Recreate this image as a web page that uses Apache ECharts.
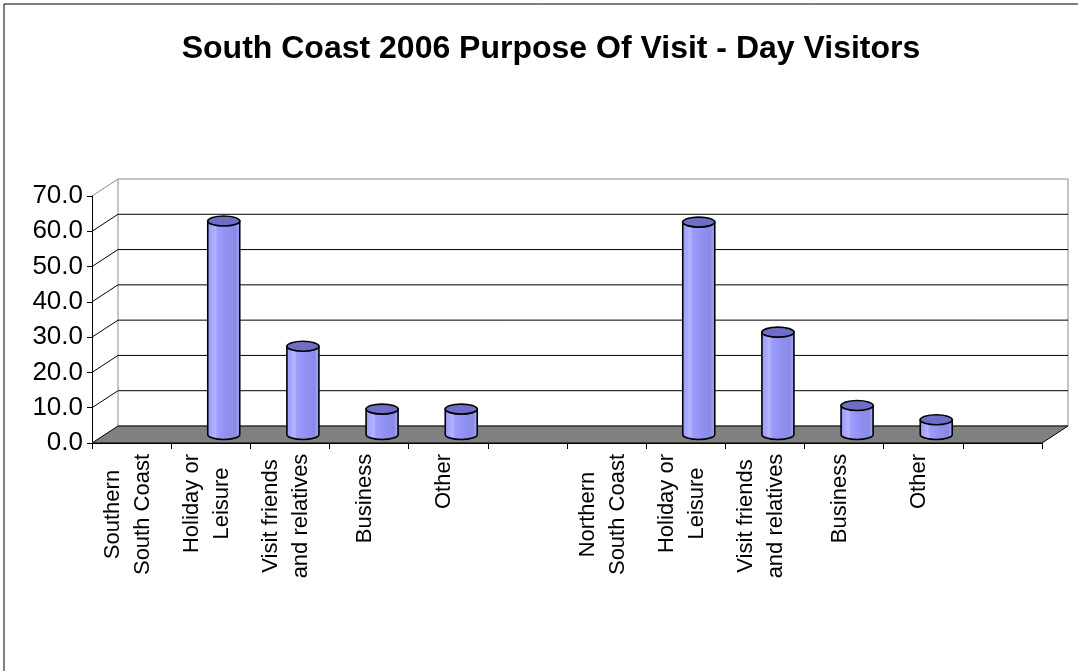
<!DOCTYPE html>
<html><head><meta charset="utf-8">
<script src="https://cdn.jsdelivr.net/npm/echarts@6/dist/echarts.min.js"></script>
<style>html,body{margin:0;padding:0;background:#fff}#c{width:1078px;height:671px}</style>
</head><body><div id="c"></div>
<script>
// ---- data ----
const titleText = 'South Coast 2006 Purpose Of Visit - Day Visitors';
const categories = ['Southern\nSouth Coast', 'Holiday or\nLeisure', 'Visit friends\nand relatives', 'Business', 'Other', '',
                    'Northern\nSouth Coast', 'Holiday or\nLeisure', 'Visit friends\nand relatives', 'Business', 'Other', ''];
const values = [null, 60.5, 25.0, 7.2, 7.2, null, null, 60.2, 29.0, 8.2, 4.2, null];
const yMin = 0, yMax = 70, yStep = 10;

// ---- style constants ----
const FONT = '"Liberation Sans", Arial, sans-serif';
const DX = 26, DY = 17;          // 3D depth offset
const CAT_FONT = 22;

// measure label lines so that lines can be centered inside a right-aligned block
const ctx = document.createElement('canvas').getContext('2d');
ctx.font = CAT_FONT + 'px ' + FONT;
const rich = {};
categories.forEach((c, i) => {
  const w = Math.max(...c.split('\n').map(s => ctx.measureText(s).width), 1);
  rich['c' + i] = { width: Math.ceil(w) + 1, align: 'center', fontSize: CAT_FONT, lineHeight: 30, fontFamily: FONT, color: '#000' };
});

const chart = echarts.init(document.getElementById('c'));

function wallItem(params, api) {
  const cs = params.coordSys;
  const x0 = cs.x, x1 = cs.x + cs.width, yb = cs.y + cs.height, yt = cs.y;
  const ch = [];
  ch.push({ type: 'polygon', shape: { points: [[x0 + DX, yt - DY], [x1 + DX, yt - DY], [x1 + DX, yb - DY], [x0 + DX, yb - DY]] },
            style: { fill: '#fff', stroke: '#8c8c8c', lineWidth: 1 } });
  ch.push({ type: 'line', shape: { x1: x0, y1: yt, x2: x0 + DX, y2: yt - DY }, style: { stroke: '#8c8c8c', lineWidth: 1 } });
  for (let v = yMin + yStep; v < yMax; v += yStep) {
    const y = api.coord([0, v])[1];
    ch.push({ type: 'polyline', shape: { points: [[x0, y], [x0 + DX, y - DY], [x1 + DX, y - DY]] },
              style: { fill: null, stroke: '#000', lineWidth: 1 } });
  }
  ch.push({ type: 'polygon', shape: { points: [[x0, yb], [x1, yb], [x1 + DX, yb - DY], [x0 + DX, yb - DY]] },
            style: { fill: '#808080', stroke: '#000', lineWidth: 1 } });
  return { type: 'group', children: ch };
}

function cylItem(params, api) {
  const i = api.value(0), v = api.value(1);
  const b = api.coord([i, 0]), t = api.coord([i, v]);
  const cx = b[0] + DX / 2, by = b[1] - DY / 2, ty = t[1] - DY / 2;
  const rx = 16, ry = 5;
  const body = `M${cx - rx},${ty} L${cx - rx},${by} A${rx},${ry} 0 0 0 ${cx + rx},${by} L${cx + rx},${ty} Z`;
  const top = `M${cx - rx},${ty} A${rx},${ry} 0 0 0 ${cx + rx},${ty} A${rx},${ry} 0 0 0 ${cx - rx},${ty} Z`;
  return {
    type: 'group', children: [
      { type: 'path', shape: { pathData: body }, style: {
          fill: new echarts.graphic.LinearGradient(0, 0, 1, 0, [
            { offset: 0, color: '#9a9af8' }, { offset: 0.12, color: '#a4a4ff' }, { offset: 0.25, color: '#b4b4ff' },
            { offset: 0.32, color: '#9c9cfc' }, { offset: 0.6, color: '#9090f0' }, { offset: 0.85, color: '#8a8ae6' },
            { offset: 0.93, color: '#a0a0f8' }, { offset: 1, color: '#8888e0' }]),
          stroke: '#000', lineWidth: 1.6 } },
      { type: 'path', shape: { pathData: top }, style: { fill: '#6e6ec6', stroke: '#000', lineWidth: 1.6 } }
    ]
  };
}

chart.setOption({
  animation: false,
  backgroundColor: '#fff',
  title: {
    text: titleText, left: 546, top: 28, textAlign: 'center',
    textStyle: { fontFamily: FONT, fontSize: 32, fontWeight: 'bold', color: '#000' }
  },
  graphic: [{ type: 'rect', shape: { x: 4, y: 4, width: 1100, height: 700 }, style: { fill: null, stroke: '#000', lineWidth: 1 }, z: 100 }],
  grid: { left: 92, right: 36, top: 196, bottom: 228, outerBoundsMode: 'none', containLabel: false },
  xAxis: {
    type: 'category', data: categories, z: 5,
    axisLine: { show: true, lineStyle: { color: '#000', width: 1 } },
    axisTick: { show: true, interval: 0, length: 6, lineStyle: { color: '#000' } },
    axisLabel: {
      interval: 0, rotate: 90, margin: 10, padding: [0, 0, 8, 0],
      formatter: (val, idx) => val.split('\n').map(s => `{c${idx}|${s}}`).join('\n'),
      rich: rich, fontSize: CAT_FONT, fontFamily: FONT, color: '#000'
    },
    splitLine: { show: false }
  },
  yAxis: {
    type: 'value', min: yMin, max: yMax, interval: yStep, z: 5,
    axisLine: { show: true, lineStyle: { color: '#000', width: 1 } },
    axisTick: { show: true, length: 5, lineStyle: { color: '#000' } },
    axisLabel: { formatter: v => v.toFixed(1), fontSize: 26, fontFamily: FONT, color: '#000', margin: 9 },
    splitLine: { show: false }
  },
  series: [
    { type: 'custom', z: 1, silent: true, clip: false, renderItem: wallItem, data: [[0, 0]], encode: { x: 0, y: 1 } },
    { type: 'custom', z: 3, silent: true, clip: false, renderItem: cylItem,
      data: values.map((v, i) => [i, v]).filter(d => d[1] != null), encode: { x: 0, y: 1 } }
  ]
});
</script></body></html>
